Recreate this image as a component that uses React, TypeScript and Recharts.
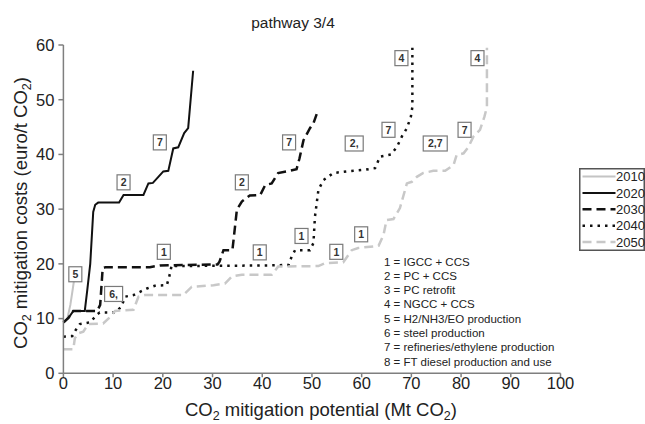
import React from 'react';
import { LineChart, Line, XAxis, YAxis, ReferenceDot, Legend } from 'recharts';

const FONT = '"Liberation Sans", Arial, Helvetica, sans-serif';

const xTicks = [0, 10, 20, 30, 40, 50, 60, 70, 80, 90, 100];
const yTicks = [0, 10, 20, 30, 40, 50, 60];

const x2010 = [0.2, 0.8, 1.4, 1.9, 2.2];
const y2010 = [9.3, 10.0, 12.5, 15.5, 17.4];

const x2020 = [0, 1, 2, 4.3, 4.8, 5.4, 6.0, 6.4, 7, 11.2, 12.1, 16.1, 17.1, 18, 19.1, 20.1, 21.1, 22.1, 23.1, 24.3, 25.1, 26.1];
const y2020 = [9.3, 10.1, 11.4, 11.4, 15.2, 20, 29.5, 30.8, 31.2, 31.2, 32.6, 32.6, 34.7, 34.8, 35.9, 36.9, 37.0, 41.1, 41.3, 43.9, 44.8, 55.3];

const x2030 = [0, 1, 2, 6.8, 7.4, 7.9, 8.5, 17.4, 19.4, 31.0, 31.4, 32.2, 34.0, 34.9, 35.9, 37.5, 39.6, 40.6, 41.9, 43.2, 44.9, 46.9, 47.5, 48.3, 49.6, 50.3, 51.0];
const y2030 = [9.3, 10.1, 11.4, 11.4, 12.5, 19.2, 19.4, 19.4, 19.7, 19.9, 20.4, 22.5, 22.5, 29.9, 31.4, 32.5, 32.6, 34.4, 34.7, 36.6, 36.9, 37.3, 39.3, 42.6, 44.8, 45.7, 47.5];

const x2040 = [0, 1.8, 2.4, 3.3, 5.4, 6.7, 7.3, 10.4, 11.7, 12.4, 14.1, 16.8, 18.4, 20.8, 21.3, 21.8, 22.5, 40.2, 45.3, 45.9, 46.6, 49.6, 50.3, 50.6, 51.3, 52.3, 54.3, 57, 60.7, 62.7, 63.7, 65.9, 67.1, 68.1, 69.1, 69.9, 70.2, 70.2];
const y2040 = [6.7, 6.8, 7.8, 9.0, 9.3, 10.7, 11.1, 11.1, 12.2, 14.0, 14.3, 15.5, 16.0, 16.1, 17.7, 19.8, 19.6, 19.7, 19.8, 21.3, 22.5, 22.5, 23.8, 28.6, 33.5, 35.3, 36.6, 36.9, 37.2, 37.5, 39.6, 40.0, 41.4, 43.3, 44.8, 46.9, 48.7, 59.5];

const x2050 = [0, 2.0, 2.3, 3.0, 4.0, 5.0, 8.0, 9.4, 10.4, 14.1, 15.1, 16.4, 24.1, 25.8, 30.2, 32.5, 33.9, 35.9, 41.9, 43.2, 51.3, 52.6, 56.3, 58.0, 59.3, 63.4, 64.4, 65.0, 66.4, 67.7, 69.1, 70.1, 71.1, 72.4, 74.4, 76.8, 78.5, 79.1, 80.5, 81.5, 82.5, 83.8, 84.7, 85.2, 85.2];
const y2050 = [4.4, 4.4, 6.4, 7.3, 7.6, 9.0, 9.1, 10.3, 11.4, 11.6, 14.0, 14.3, 14.3, 15.8, 16.1, 16.4, 17.7, 18.0, 18.0, 19.5, 19.6, 20.1, 20.3, 22.5, 22.9, 23.3, 25.3, 28.0, 28.2, 30.2, 34.7, 35.0, 35.9, 36.6, 37.0, 37.0, 38.1, 39.9, 40.2, 41.4, 43.3, 44.5, 46.9, 48.7, 59.5];

const seriesNames = ['2010', '2020', '2030', '2040', '2050'];

const labelTexts = ['5', '2', '7', '1', '6,', '2', '7', '1', '1', '2,', '7', '4', '1', '1', '2,7', '7', '4'];
const labelX = [2.4, 12.1, 19.4, 20.2, 10.1, 35.9, 45.4, 39.5, 47.9, 58.5, 65.4, 68.0, 54.9, 59.9, 74.8, 80.7, 83.3];
const labelY = [18.1, 34.9, 42.2, 22.2, 14.5, 34.9, 42.2, 22.1, 25.1, 42.0, 44.5, 57.6, 22.2, 25.4, 42.0, 44.5, 57.6];

const keyItems = [
  '1 = IGCC + CCS',
  '2 = PC + CCS',
  '3 = PC retrofit',
  '4 = NGCC + CCS',
  '5 = H2/NH3/EO production',
  '6 = steel production',
  '7 = refineries/ethylene production',
  '8 = FT diesel production and use',
];

const zip = (xs: number[], ys: number[]) => xs.map((x, i) => ({ x, y: ys[i] }));

const styles = [
  { stroke: '#c4c4c4', dash: undefined as string | undefined, width: 2 },
  { stroke: '#111111', dash: undefined as string | undefined, width: 2 },
  { stroke: '#111111', dash: '9 5', width: 2.5 },
  { stroke: '#111111', dash: '2.5 5', width: 2.5 },
  { stroke: '#c8c8c8', dash: '9 5', width: 2.5 },
];

const seriesData = [zip(x2010, y2010), zip(x2020, y2020), zip(x2030, y2030), zip(x2040, y2040), zip(x2050, y2050)];

const boxShape = (text: string) => (props: any) => {
  const { cx, cy } = props;
  const w = text.length === 1 ? 13 : text.length === 2 ? 18 : 24;
  const h = 15;
  return (
    <g>
      <rect x={cx - w / 2} y={cy - h / 2} width={w} height={h} fill="#fff" stroke="#7a7a7a" strokeWidth={1.2} />
      <text x={cx} y={cy + 4} textAnchor="middle" fontSize={10.5} fontWeight="bold" fill="#333" fontFamily={FONT}>
        {text}
      </text>
    </g>
  );
};

const renderLegend = () => (
  <svg width={66} height={83} style={{ display: 'block' }}>
    <rect x={0.75} y={0.75} width={64.5} height={81.5} fill="#fff" stroke="#555" strokeWidth={1.5} />
    {seriesNames.map((n, i) => {
      const yy = 8.5 + i * 16.4;
      const s = styles[i];
      return (
        <g key={n}>
          <line x1={3.5} x2={36.5} y1={yy} y2={yy} stroke={s.stroke} strokeWidth={s.width} strokeDasharray={s.dash} />
          <text x={37} y={yy + 4.6} fontSize={13} fill="#222" fontFamily={FONT}>{n}</text>
        </g>
      );
    })}
  </svg>
);

const subStyle: React.CSSProperties = { fontSize: 12.5, verticalAlign: 'baseline', position: 'relative', top: 3.5 };

export default function App() {
  return (
    <div style={{ position: 'absolute', left: 0, top: 0, width: 645, height: 424, background: '#fff', fontFamily: FONT, color: '#222' }}>
      <LineChart width={645} height={424} margin={{ top: 45, right: 84.5, bottom: 0, left: 0 }}>
        <XAxis
          type="number"
          dataKey="x"
          domain={[0, 100]}
          ticks={xTicks}
          interval={0}
          height={50.7}
          tickSize={4}
          tickMargin={0}
          stroke="#7f7f7f"
          strokeWidth={1.5}
          tick={{ fill: '#222', fontSize: 16.5, fontFamily: FONT }}
        />
        <YAxis
          type="number"
          dataKey="y"
          domain={[0, 60]}
          ticks={yTicks}
          interval={0}
          width={63.4}
          tickSize={5}
          tickMargin={4}
          stroke="#7f7f7f"
          strokeWidth={1.5}
          tick={{ fill: '#222', fontSize: 16.5, fontFamily: FONT }}
        />
        {seriesData.map((d, i) => (
          <Line
            key={seriesNames[i]}
            name={seriesNames[i]}
            data={d}
            dataKey="y"
            type="linear"
            stroke={styles[i].stroke}
            strokeWidth={styles[i].width}
            strokeDasharray={styles[i].dash}
            strokeLinecap="butt"
            dot={false}
            activeDot={false}
            isAnimationActive={false}
          />
        ))}
        {labelTexts.map((t, i) => (
          <ReferenceDot key={'lb' + i} x={labelX[i]} y={labelY[i]} r={1} shape={boxShape(t)} ifOverflow="visible" />
        ))}
        <Legend
          layout="vertical"
          align="center"
          verticalAlign="middle"
          content={renderLegend}
          wrapperStyle={{ position: 'absolute', left: 579, top: 168, width: 66, height: 83 }}
        />
      </LineChart>

      <div style={{ position: 'absolute', left: 193, width: 200, top: 13, textAlign: 'center', fontSize: 15.5, lineHeight: '19px' }}>
        pathway 3/4
      </div>

      <div style={{ position: 'absolute', left: 171, width: 300, top: 399, height: 22, textAlign: 'center', fontSize: 18.5, lineHeight: '22px', whiteSpace: 'nowrap' }}>
        CO<span style={subStyle}>2</span> mitigation potential (Mt CO<span style={subStyle}>2</span>)
      </div>

      <div
        style={{
          position: 'absolute',
          left: 20.6 - 160,
          top: 212.5 - 11,
          width: 320,
          height: 22,
          textAlign: 'center',
          fontSize: 18.5,
          lineHeight: '22px',
          whiteSpace: 'nowrap',
          transform: 'rotate(-90deg)',
          transformOrigin: '50% 50%',
        }}
      >
        CO<span style={subStyle}>2</span> mitigation costs (euro/t CO<span style={subStyle}>2</span>)
      </div>

      <div style={{ position: 'absolute', left: 384, top: 254.5, fontSize: 11.5, lineHeight: '14.3px', whiteSpace: 'nowrap', color: '#222' }}>
        {keyItems.map((k) => (
          <div key={k}>{k}</div>
        ))}
      </div>
    </div>
  );
}
